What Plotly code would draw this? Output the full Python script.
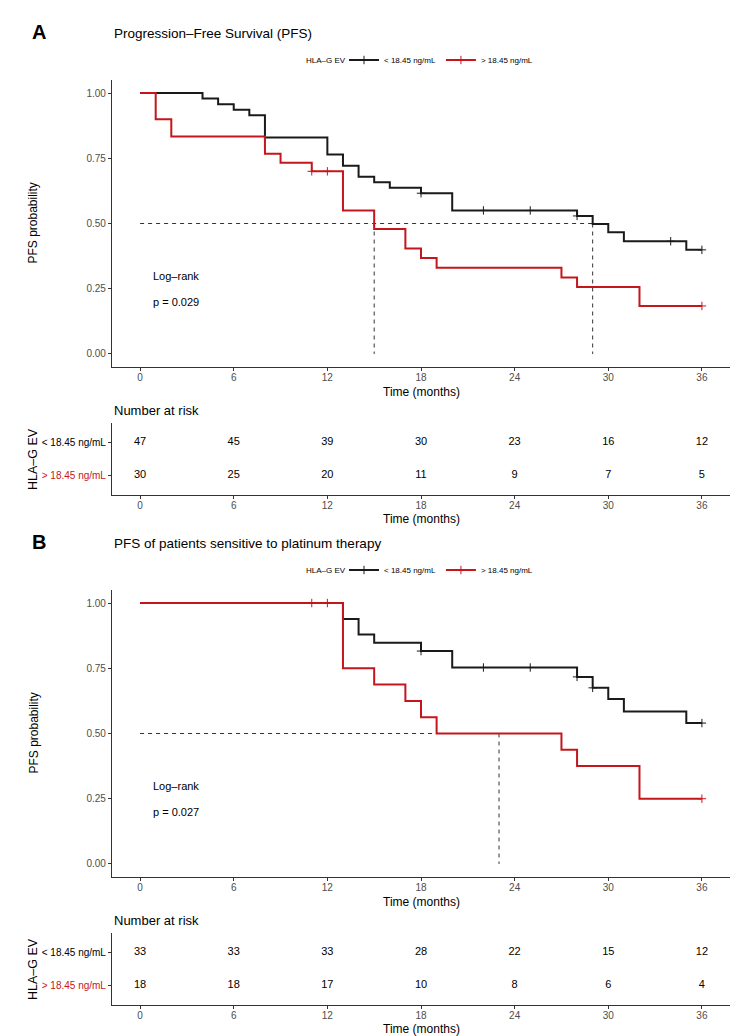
import plotly.graph_objects as go

# ---------------- data ----------------
risk_times = [0, 6, 12, 18, 24, 30, 36]
group_labels = ["< 18.45 ng/mL", "> 18.45 ng/mL"]
legend_title = "HLA–G EV"

# Panel A
a_low_time = [0, 4, 5, 6, 7, 8, 12, 13, 14, 15, 16, 18, 20, 28, 29, 30, 31, 35, 36]
a_low_surv = [1.0, 0.979, 0.957, 0.936, 0.915, 0.830, 0.764, 0.721, 0.679, 0.658, 0.637,
              0.616, 0.550, 0.529, 0.498, 0.466, 0.432, 0.399, 0.399]
a_low_cens = [18, 22, 25, 28, 34, 36]
a_high_time = [0, 1, 2, 8, 9, 11, 13, 15, 17, 18, 19, 27, 28, 32, 36]
a_high_surv = [1.0, 0.900, 0.833, 0.767, 0.733, 0.700, 0.550, 0.479, 0.404, 0.368, 0.330,
               0.293, 0.257, 0.184, 0.184]
a_high_cens = [11, 12, 36]
a_medians = [15, 29]
a_risk_low = [47, 45, 39, 30, 23, 16, 12]
a_risk_high = [30, 25, 20, 11, 9, 7, 5]
a_pval = "p = 0.029"
a_title = "Progression–Free Survival (PFS)"

# Panel B
b_low_time = [0, 13, 14, 15, 18, 20, 28, 29, 30, 31, 35, 36]
b_low_surv = [1.0, 0.939, 0.879, 0.848, 0.816, 0.753, 0.717, 0.675, 0.632, 0.584, 0.540, 0.540]
b_low_cens = [18, 22, 25, 28, 29, 36]
b_high_time = [0, 13, 15, 17, 18, 19, 27, 28, 32, 36]
b_high_surv = [1.0, 0.750, 0.688, 0.625, 0.562, 0.500, 0.438, 0.375, 0.250, 0.250]
b_high_cens = [11, 12, 36]
b_medians = [23]
b_risk_low = [33, 33, 33, 28, 22, 15, 12]
b_risk_high = [18, 18, 17, 10, 8, 6, 4]
b_pval = "p = 0.027"
b_title = "PFS of patients sensitive to platinum therapy"

y_ticks = [0, 0.25, 0.5, 0.75, 1.0]

# ---------------- style ----------------
W, H = 748, 1036
FONT = "Liberation Sans, Arial, sans-serif"
BLACK = "#1a1a1a"
RED = "#C4161C"
AX = "#333333"
TICKC = "#4D4D4D"


def px_x(p):
    return p / W


def px_y(p):
    return 1 - p / H


def surv_at(times, survs, t):
    v = survs[0]
    for ti, si in zip(times, survs):
        if ti <= t:
            v = si
    return v


fig = go.Figure()
annotations = []

panels = [
    dict(off=0, letter="A", title=a_title, lt=a_low_time, ls=a_low_surv, lc=a_low_cens,
         ht=a_high_time, hs=a_high_surv, hc=a_high_cens, med=a_medians,
         rl=a_risk_low, rh=a_risk_high, pval=a_pval, ax=("x", "y"), tax=("x2", "y2"), leg="legend"),
    dict(off=510, letter="B", title=b_title, lt=b_low_time, ls=b_low_surv, lc=b_low_cens,
         ht=b_high_time, hs=b_high_surv, hc=b_high_cens, med=b_medians,
         rl=b_risk_low, rh=b_risk_high, pval=b_pval, ax=("x3", "y3"), tax=("x4", "y4"), leg="legend2"),
]

layout_axes = {}
XL, XR = 104, 722
LEG_X = 340

for p in panels:
    o = p["off"]
    xa, ya = p["ax"]
    txa, tya = p["tax"]

    # median reference lines
    mx, my = [0, max(p["med"])], [0.5, 0.5]
    for m in p["med"]:
        mx += [None, m, m]
        my += [None, 0.5, 0]
    fig.add_trace(go.Scatter(x=mx, y=my, mode="lines", xaxis=xa, yaxis=ya, showlegend=False,
                             line=dict(color="#333333", width=1, dash="4px,4px"), hoverinfo="skip"))

    # survival curves
    for t, s, c, col in [(p["lt"], p["ls"], p["lc"], BLACK), (p["ht"], p["hs"], p["hc"], RED)]:
        fig.add_trace(go.Scatter(x=t, y=s, mode="lines", line_shape="hv", xaxis=xa, yaxis=ya,
                                 showlegend=False, line=dict(color=col, width=2)))
        fig.add_trace(go.Scatter(x=c, y=[surv_at(t, s, ci) for ci in c], mode="markers",
                                 xaxis=xa, yaxis=ya, showlegend=False,
                                 marker=dict(symbol="cross-thin-open", size=6, color=col,
                                             line=dict(color=col, width=1))))

    # legend entries
    for lab, col in zip(group_labels, [BLACK, RED]):
        fig.add_trace(go.Scatter(x=[None], y=[None], mode="lines+markers", name=lab, legend=p["leg"],
                                 xaxis=xa, yaxis=ya,
                                 line=dict(color=col, width=2),
                                 marker=dict(symbol="cross-thin-open", size=6, color=col,
                                             line=dict(color=col, width=1))))

    # risk table numbers
    fig.add_trace(go.Scatter(x=risk_times + risk_times, y=[2] * len(risk_times) + [1] * len(risk_times),
                             text=[str(v) for v in p["rl"] + p["rh"]], mode="text",
                             textfont=dict(family=FONT, size=11, color="#000000"),
                             xaxis=txa, yaxis=tya, showlegend=False, hoverinfo="skip"))

    ytop, ybot = 72 + o, 359 + o
    ttop, tbot = 415 + o, 487 + o

    common_x = dict(range=[-1.8, 37.8], tickvals=risk_times, showline=True, linecolor=AX, linewidth=1.1,
                    ticks="outside", ticklen=3, tickcolor=AX, tickwidth=1, ticklabelstandoff=-2,
                    tickfont=dict(family=FONT, size=10, color=TICKC), showgrid=False, zeroline=False,
                    domain=[px_x(XL), px_x(XR)], fixedrange=True)
    layout_axes["xaxis" + xa[1:]] = dict(common_x, anchor=ya)
    layout_axes["yaxis" + ya[1:]] = dict(range=[-0.05, 1.05], tickvals=y_ticks, tickformat=".2f",
                                         showline=True, linecolor=AX, linewidth=1.1, ticks="outside",
                                         ticklen=3, tickcolor=AX, tickwidth=1,
                                         tickfont=dict(family=FONT, size=10, color=TICKC),
                                         showgrid=False, zeroline=False, anchor=xa,
                                         domain=[px_y(ybot), px_y(ytop)])
    layout_axes["xaxis" + txa[1:]] = dict(common_x, anchor=tya)
    layout_axes["yaxis" + tya[1:]] = dict(range=[0.4, 2.6], tickvals=[2, 1],
                                          ticktext=["< 18.45 ng/mL",
                                                    "<span style='color:%s'>&gt; 18.45 ng/mL</span>" % RED],
                                          showline=True, linecolor=AX, linewidth=1.1, ticks="outside",
                                          ticklen=3, tickcolor=AX, tickwidth=1,
                                          tickfont=dict(family=FONT, size=10, color="#000000"),
                                          showgrid=False, zeroline=False, anchor=txa,
                                          domain=[px_y(tbot), px_y(ttop)])

    # texts
    annotations += [
        dict(text="<b>%s</b>" % p["letter"], x=px_x(22), y=px_y(24 + o), xanchor="left", yanchor="middle",
             font=dict(family=FONT, size=20, color="#000000")),
        dict(text=p["title"], x=px_x(XL), y=px_y(25 + o), xanchor="left", yanchor="middle",
             font=dict(family=FONT, size=13.5, color="#000000")),
        dict(text=legend_title, x=px_x(LEG_X), y=px_y(52 + o), xanchor="right", yanchor="middle",
             font=dict(family=FONT, size=8, color="#000000")),
        dict(text="PFS probability", x=px_x(25), y=px_y((ytop + ybot) / 2), textangle=-90,
             xanchor="center", yanchor="middle", font=dict(family=FONT, size=12, color="#000000")),
        dict(text="Time (months)", x=px_x((XL + XR) / 2), y=px_y(384 + o), xanchor="center",
             yanchor="middle", font=dict(family=FONT, size=12, color="#000000")),
        dict(text="Number at risk", x=px_x(XL), y=px_y(402 + o), xanchor="left", yanchor="middle",
             font=dict(family=FONT, size=13, color="#000000")),
        dict(text="HLA–G EV", x=px_x(25), y=px_y((ttop + tbot) / 2), textangle=-90,
             xanchor="center", yanchor="middle", font=dict(family=FONT, size=12.5, color="#000000")),
        dict(text="Time (months)", x=px_x((XL + XR) / 2), y=px_y(511 + o), xanchor="center",
             yanchor="middle", font=dict(family=FONT, size=12, color="#000000")),
        dict(text="Log–rank", x=0.7, y=0.3, xref=xa, yref=ya, xanchor="left", yanchor="middle",
             font=dict(family=FONT, size=11, color="#000000")),
        dict(text=p["pval"], x=0.7, y=0.2, xref=xa, yref=ya, xanchor="left", yanchor="middle",
             font=dict(family=FONT, size=11, color="#000000")),
    ]
    for a in annotations:
        a.setdefault("xref", "paper")
        a.setdefault("yref", "paper")
        a.setdefault("showarrow", False)

legend_common = dict(orientation="h", xanchor="left", yanchor="middle",
                     font=dict(family=FONT, size=8, color="#000000"), itemwidth=30,
                     bgcolor="rgba(0,0,0,0)", borderwidth=0, tracegroupgap=0)

fig.update_layout(
    width=W, height=H, autosize=False,
    margin=dict(l=0, r=0, t=0, b=0),
    paper_bgcolor="white", plot_bgcolor="white",
    showlegend=True,
    legend=dict(legend_common, x=px_x(LEG_X - 4), y=px_y(52)),
    legend2=dict(legend_common, x=px_x(LEG_X - 4), y=px_y(562)),
    annotations=annotations,
    font=dict(family=FONT),
    **layout_axes,
)

fig.write_html("out.html")
